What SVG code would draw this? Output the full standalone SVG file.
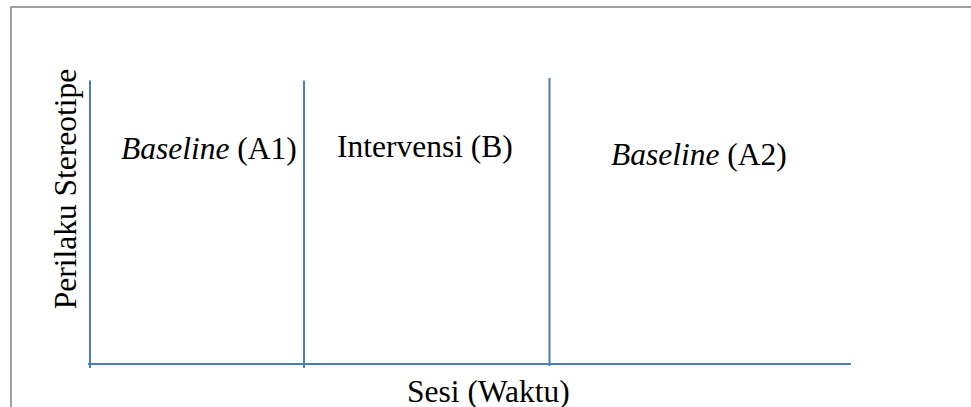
<svg xmlns="http://www.w3.org/2000/svg" width="971" height="407" viewBox="0 0 971 407">
<style>
.ax{stroke:#4a7ebb;stroke-width:2;fill:none}
.t{font-family:"Liberation Serif","Times New Roman",serif;font-size:31.5px;fill:#000}
.i{font-style:italic}
</style>
<rect width="971" height="407" fill="#fff"/>
<rect x="11" y="7" width="1000" height="500" fill="none" stroke="#8a8a8a" stroke-width="1.6"/>
<g id="connectors">
<line class="ax" x1="90" y1="80.5" x2="90" y2="368"/>
<line class="ax" x1="88" y1="364" x2="851" y2="364"/>
<line class="ax" x1="304" y1="80.5" x2="304" y2="368"/>
<line class="ax" x1="549.5" y1="78" x2="549.5" y2="366"/>
</g>
<g id="ylabel"><text class="t" transform="translate(76,189) rotate(-90)" text-anchor="middle">Perilaku Stereotipe</text></g>
<g id="a1"><text class="t" x="121" y="159"><tspan class="i">Baseline</tspan> (A1)</text></g>
<g id="b"><text class="t" x="337" y="157">Intervensi (B)</text></g>
<g id="a2"><text class="t" x="611" y="165"><tspan class="i">Baseline</tspan> (A2)</text></g>
<g id="xlabel"><text class="t" x="407" y="401.5">Sesi (Waktu)</text></g>
</svg>
